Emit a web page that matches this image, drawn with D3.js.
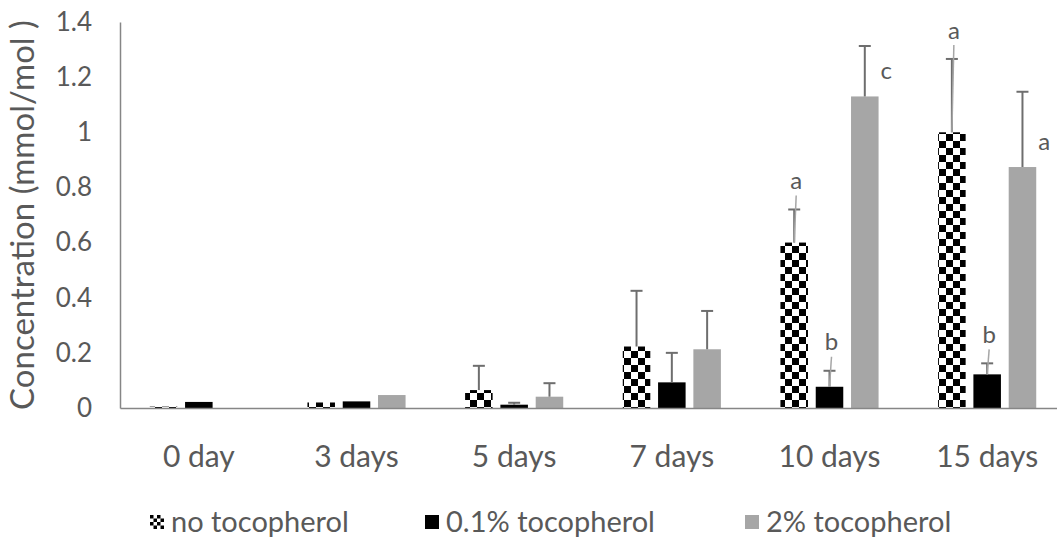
<!DOCTYPE html>
<html>
<head>
<meta charset="utf-8">
<script src="https://cdn.jsdelivr.net/npm/d3@7"></script>
<style>
  body { margin: 0; background: #fff; }
  svg text { font-family: Lato, "Open Sans", sans-serif; fill: #595959; }
</style>
</head>
<body>
<svg id="chart" width="1057" height="544"></svg>
<script>
const categories = ['0 day', '3 days', '5 days', '7 days', '10 days', '15 days'];
const seriesNames = ['no tocopherol', '0.1% tocopherol', '2% tocopherol'];
const noToco = [0.005, 0.02, 0.065, 0.223, 0.6, 1.0];
const noTocoErr = [0, 0, 0.088, 0.202, 0.12, 0.266];
const toco01 = [0.022, 0.024, 0.012, 0.093, 0.077, 0.122];
const toco01Err = [0, 0, 0.007, 0.107, 0.058, 0.04];
const toco2 = [0, 0.047, 0.041, 0.213, 1.13, 0.874];
const toco2Err = [0, 0, 0.049, 0.139, 0.183, 0.273];
const yTicks = [0, 0.2, 0.4, 0.6, 0.8, 1, 1.2, 1.4];
const yTickLabels = ['0', '0.2', '0.4', '0.6', '0.8', '1', '1.2', '1.4'];
// significance letters: series index, category index, text, where it sits
const letters = [
  { s: 0, c: 4, t: 'a', pos: 'above' },
  { s: 1, c: 4, t: 'b', pos: 'above' },
  { s: 2, c: 4, t: 'c', pos: 'right' },
  { s: 0, c: 5, t: 'a', pos: 'above' },
  { s: 1, c: 5, t: 'b', pos: 'above' },
  { s: 2, c: 5, t: 'a', pos: 'right' }
];

const values = [noToco, toco01, toco2];
const errors = [noTocoErr, toco01Err, toco2Err];

const margin = { top: 22, left: 120, bottom: 136 };
const svg = d3.select('#chart');
const height = 544 - margin.top - margin.bottom;

// plot area runs a little past the right edge of the picture
const plotWidth = 946;

const x0 = d3.scaleBand().domain(categories).range([0, plotWidth]);
const x1 = d3.scaleBand().domain(seriesNames)
  .range([-52.95, 52.95])
  .paddingInner(0.22)
  .paddingOuter(0.11);
const y = d3.scaleLinear().domain([0, 1.4]).range([height, 0]);

const defs = svg.append('defs');
const pat = defs.append('pattern')
  .attr('id', 'checker')
  .attr('patternUnits', 'userSpaceOnUse')
  .attr('width', 14).attr('height', 14);
pat.append('rect').attr('width', 14).attr('height', 14).attr('fill', '#fff');
pat.append('rect').attr('width', 7).attr('height', 7).attr('fill', '#000');
pat.append('rect').attr('x', 7).attr('y', 7).attr('width', 7).attr('height', 7).attr('fill', '#000');

// smaller checker for the legend key, tied to the key box
const lpat = defs.append('pattern')
  .attr('id', 'checkerKey')
  .attr('patternUnits', 'objectBoundingBox')
  .attr('patternContentUnits', 'objectBoundingBox')
  .attr('width', 0.5).attr('height', 0.5);
lpat.append('rect').attr('width', 0.5).attr('height', 0.5).attr('fill', '#fff');
lpat.append('rect').attr('width', 0.25).attr('height', 0.25).attr('fill', '#000');
lpat.append('rect').attr('x', 0.25).attr('y', 0.25).attr('width', 0.25).attr('height', 0.25).attr('fill', '#000');

const fills = ['url(#checker)', '#000', '#a6a6a6'];
const keyFills = ['url(#checkerKey)', '#000', '#a6a6a6'];

const g = svg.append('g')
  .attr('transform', 'translate(' + margin.left + ',' + margin.top + ')');

const rows = [];
categories.forEach((c, ci) => {
  seriesNames.forEach((s, si) => {
    rows.push({ c: c, ci: ci, s: s, si: si, v: values[si][ci], e: errors[si][ci] });
  });
});

const barX = (d) => x0(d.c) + x0.bandwidth() / 2 + x1(d.s);
const barMid = (d) => barX(d) + x1.bandwidth() / 2;

// bars
g.append('g').selectAll('rect')
  .data(rows.filter((d) => d.v > 0))
  .enter().append('rect')
  .attr('x', barX)
  .attr('y', (d) => y(d.v))
  .attr('width', x1.bandwidth())
  .attr('height', (d) => height - y(d.v))
  .attr('fill', (d) => fills[d.si]);

// error bars
const err = g.append('g').attr('stroke', '#6e6e6e').attr('stroke-width', 2);
const withErr = rows.filter((d) => d.e > 0);
err.selectAll('line.v')
  .data(withErr)
  .enter().append('line')
  .attr('class', 'v')
  .attr('x1', barMid).attr('x2', barMid)
  .attr('y1', (d) => y(d.v)).attr('y2', (d) => y(d.v + d.e));
err.selectAll('line.cap')
  .data(withErr)
  .enter().append('line')
  .attr('class', 'cap')
  .attr('x1', (d) => barMid(d) - 6).attr('x2', (d) => barMid(d) + 6)
  .attr('y1', (d) => y(d.v + d.e)).attr('y2', (d) => y(d.v + d.e));

// axes
const yAxis = g.append('g')
  .call(d3.axisLeft(y).tickValues(yTicks).tickSize(0).tickPadding(28)
    .tickFormat((d, i) => yTickLabels[i]));
yAxis.select('.domain').attr('stroke', '#868686').attr('stroke-width', 1.5);
yAxis.selectAll('text').style('font-size', '26px').attr('fill', '#595959');

const xAxis = g.append('g')
  .attr('transform', 'translate(0,' + height + ')')
  .call(d3.axisBottom(x0).tickSize(0).tickPadding(38));
xAxis.select('.domain').attr('stroke', '#868686').attr('stroke-width', 1.5);
xAxis.selectAll('text').style('font-size', '30px').attr('fill', '#595959');

// letters with leader lines
const lab = g.append('g');
letters.forEach((l) => {
  const d = rows.find((r) => r.si === l.s && r.ci === l.c);
  const top = y(d.v + d.e);
  if (l.pos === 'above') {
    const ly = top - 28;
    lab.append('line')
      .attr('x1', barMid(d) + 2).attr('y1', ly + 14)
      .attr('x2', barMid(d)).attr('y2', y(d.v))
      .attr('stroke', '#a6a6a6').attr('stroke-width', 1.5);
    lab.append('text')
      .attr('x', barMid(d) + 2).attr('y', ly)
      .attr('text-anchor', 'middle').attr('dy', '0.32em')
      .style('font-size', '24px').text(l.t);
  } else {
    lab.append('text')
      .attr('x', barX(d) + x1.bandwidth() + 2).attr('y', y(d.v) - 25)
      .attr('dy', '0.32em')
      .style('font-size', '24px').text(l.t);
  }
});

// y title
svg.append('text')
  .attr('transform', 'translate(34,' + (margin.top + height / 2) + ') rotate(-90)')
  .attr('text-anchor', 'middle')
  .style('font-size', '33px')
  .text('Concentration (mmol/mol )');

// legend
const legendX = [150, 425, 745];
const leg = svg.append('g').attr('transform', 'translate(0,522)');
seriesNames.forEach((s, i) => {
  leg.append('rect')
    .attr('x', legendX[i]).attr('y', -7)
    .attr('width', 14).attr('height', 14)
    .attr('fill', keyFills[i]);
  leg.append('text')
    .attr('x', legendX[i] + 21).attr('y', 0)
    .attr('dy', '0.35em')
    .style('font-size', '29px')
    .text(s);
});
</script>
</body>
</html>
